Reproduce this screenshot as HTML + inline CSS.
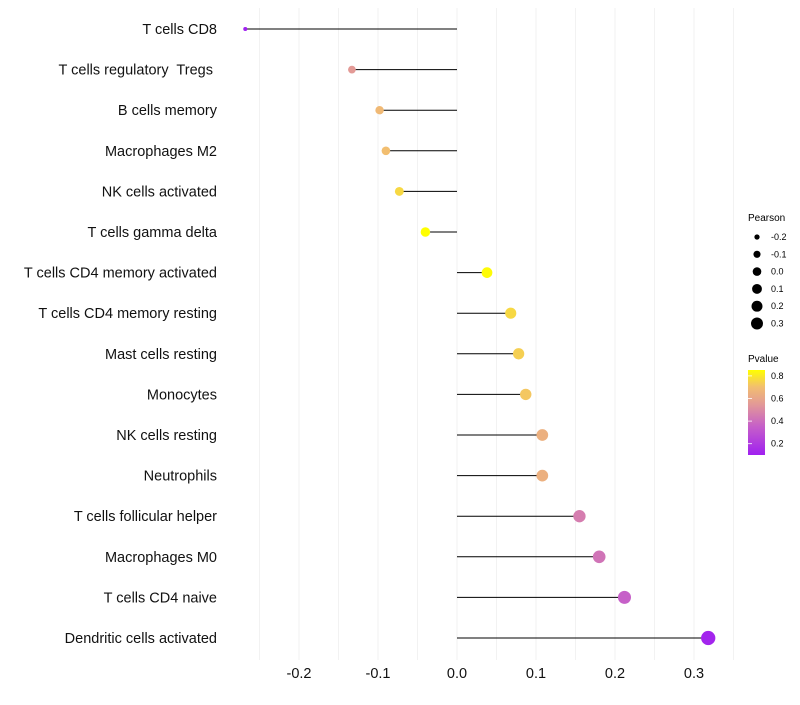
<!DOCTYPE html>
<html><head><meta charset="utf-8"><style>
body{margin:0;background:#fff;font-family:"Liberation Sans",sans-serif}
text{white-space:pre}
</style></head><body>
<svg id="chart" width="800" height="700" xmlns="http://www.w3.org/2000/svg">
<defs><linearGradient id="pg" x1="0" y1="1" x2="0" y2="0">
<stop offset="0" stop-color="#a020f0"/><stop offset="0.34" stop-color="#c660c8"/><stop offset="0.6" stop-color="#e39a96"/><stop offset="0.8" stop-color="#f2be70"/><stop offset="1" stop-color="#ffff00"/>
</linearGradient></defs>
<g id="grid"></g><g id="marks"></g><g id="ylab"></g><g id="xlab"></g>
<g font-size="9" fill="#000">
<text x="748" y="221" font-size="10">Pearson</text>
<g id="sizeleg"></g>
<text x="748" y="362" font-size="10">Pvalue</text>
<rect x="748" y="370" width="17" height="85" fill="url(#pg)"/>
<g id="colleg"></g>
</g>
</svg>
<script>
const categories=["T cells CD8","T cells regulatory  Tregs ","B cells memory","Macrophages M2","NK cells activated","T cells gamma delta","T cells CD4 memory activated","T cells CD4 memory resting","Mast cells resting","Monocytes","NK cells resting","Neutrophils","T cells follicular helper","Macrophages M0","T cells CD4 naive","Dendritic cells activated"];
const pearson=[-0.268,-0.133,-0.098,-0.090,-0.073,-0.040,0.038,0.068,0.078,0.087,0.108,0.108,0.155,0.180,0.212,0.318];
const pvalues=[0.1,0.55,0.68,0.7,0.76,0.85,0.84,0.76,0.74,0.72,0.64,0.64,0.45,0.42,0.35,0.12];
const xTicks=[-0.2,-0.1,0.0,0.1,0.2,0.3];
const sizeTicks=[-0.2,-0.1,0.0,0.1,0.2,0.3];
const colTicks=[0.8,0.6,0.4,0.2];
const NS="http://www.w3.org/2000/svg";
const x=v=>457+v*790;
const y=i=>29+i*40.6;
const r=v=>Math.sqrt(4+80*(v+0.27));
const stops=[[0.1,[160,32,240]],[0.35,[198,96,200]],[0.55,[227,154,150]],[0.7,[242,190,112]],[0.85,[255,255,0]]];
function col(p){p=Math.max(0.1,Math.min(0.85,p));for(let k=0;k<stops.length-1;k++){const a=stops[k],b=stops[k+1];if(p<=b[0]){const t=(p-a[0])/(b[0]-a[0]);return "rgb("+a[1].map((c,j)=>Math.round(c+(b[1][j]-c)*t)).join(",")+")";}}return "rgb(255,255,0)";}
function mk(t,a,p){const e=document.createElementNS(NS,t);for(const k in a)e.setAttribute(k,a[k]);p.appendChild(e);return e;}
const grid=document.getElementById('grid');
for(let v=-0.25;v<=0.351;v+=0.05){const g=mk('line',{x1:x(v),x2:x(v),y1:8,y2:660,stroke:'#f2f2f2','stroke-width':1},grid);

}
const marks=document.getElementById('marks'),yl=document.getElementById('ylab');
categories.forEach((c,i)=>{
const l=mk('line',{x1:x(0),x2:x(pearson[i]),y1:y(i),y2:y(i),stroke:'#000','stroke-width':1},marks);


const d=mk('circle',{cx:x(pearson[i]),cy:y(i),r:r(pearson[i]),fill:col(pvalues[i])},marks);


const t=mk('text',{x:217,y:y(i)+5,'text-anchor':'end','font-size':14.5,fill:'#111'},yl);t.textContent=c;


});
const xl=document.getElementById('xlab');
xTicks.forEach(v=>{const t=mk('text',{x:x(v),y:678,'text-anchor':'middle','font-size':14.5,fill:'#111'},xl);t.textContent=v.toFixed(1);

});
const sl=document.getElementById('sizeleg');
sizeTicks.forEach((v,i)=>{const cy=237+i*17.3;
const c=mk('circle',{cx:757,cy:cy,r:r(v)*0.85,fill:'#000'},sl);


const t=mk('text',{x:771,y:cy+3,'font-size':9},sl);t.textContent=v.toFixed(1);

});
const cl=document.getElementById('colleg');
colTicks.forEach(v=>{const yy=455-(v-0.1)*113;
const t=mk('text',{x:771,y:yy+3,'font-size':9},cl);t.textContent=v.toFixed(1);


const tk=mk('line',{x1:748,x2:752,y1:yy,y2:yy,stroke:'#fff','stroke-width':0.8},cl);

});
</script>
</body></html>
